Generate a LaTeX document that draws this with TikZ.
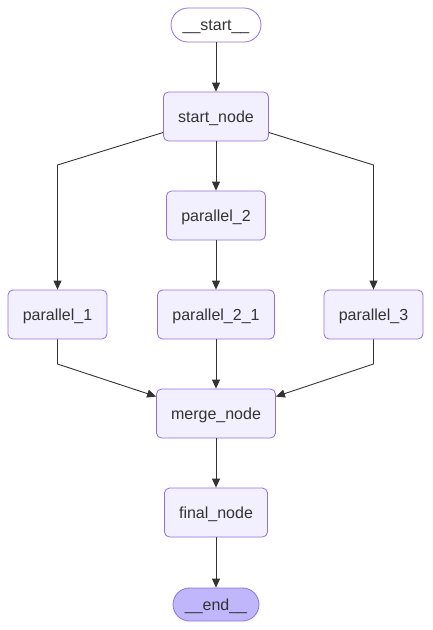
\documentclass[tikz,border=0pt]{standalone}
\usepackage{fontspec}
\setmainfont{Liberation Sans}
\usetikzlibrary{arrows.meta,calc}
\definecolor{nodefill}{HTML}{F2F0FF}
\definecolor{nodeline}{HTML}{9370DB}
\definecolor{endfill}{HTML}{BFB6FC}
\definecolor{edge}{HTML}{333333}
\definecolor{txt}{HTML}{333333}
\begin{document}
\begin{tikzpicture}[x=1pt,y=-1pt,
  box/.style={draw=nodeline,fill=nodefill,line width=0.8pt,rounded corners=5pt,minimum height=49pt,inner sep=0pt,text height=14.5pt,text depth=3.4pt,text=txt,font=\fontsize{16}{19}\selectfont},
  term/.style={draw=nodeline,line width=0.8pt,rounded corners=17pt,minimum height=34pt,inner sep=0pt,text height=14.5pt,text depth=3.4pt,text=txt,font=\fontsize{16}{19}\selectfont},
  conn/.style={draw=edge,line width=0.9pt,-{Triangle[length=9pt,width=8pt]}}]
\useasboundingbox (0,0) rectangle (432,630);
\node[term,fill=white,minimum width=90pt] (start) at (216,25) {\_\_start\_\_};
\node[box,minimum width=105pt] (sn) at (216,116.5) {start\_node};
\node[box,minimum width=99pt] (p2) at (216,215.5) {parallel\_2};
\node[box,minimum width=99pt] (p1) at (57.5,314.5) {parallel\_1};
\node[box,minimum width=117pt] (p21) at (216,314.5) {parallel\_2\_1};
\node[box,minimum width=99pt] (p3) at (373.5,314.5) {parallel\_3};
\node[box,minimum width=119pt] (mn) at (216,413.5) {merge\_node};
\node[box,minimum width=103pt] (fn) at (216,512.5) {final\_node};
\node[term,fill=endfill,minimum width=86pt,minimum height=33pt,rounded corners=16.5pt] (end) at (216,604.5) {\_\_end\_\_};
\coordinate (a1) at (57.5,165);
\coordinate (a3) at (373.5,165);
\coordinate (b1) at (57.5,364);
\coordinate (b3) at (373.5,364);
\draw[conn] (start) -- (sn);
\draw[conn] (sn) -- (p2);
\draw[conn] (p2) -- (p21);
\draw[conn] (p21) -- (mn);
\draw[conn] (mn) -- (fn);
\draw[conn] (fn) -- (end);
\draw[conn] ($(sn.west)+(0,16)$) -- (a1) -- (p1.north);
\draw[conn] ($(sn.east)+(0,16)$) -- (a3) -- (p3.north);
\draw[conn] (p1.south) -- (b1) -- ($(mn.west)+(0,-17)$);
\draw[conn] (p3.south) -- (b3) -- ($(mn.east)+(0,-17)$);
\end{tikzpicture}
\end{document}
